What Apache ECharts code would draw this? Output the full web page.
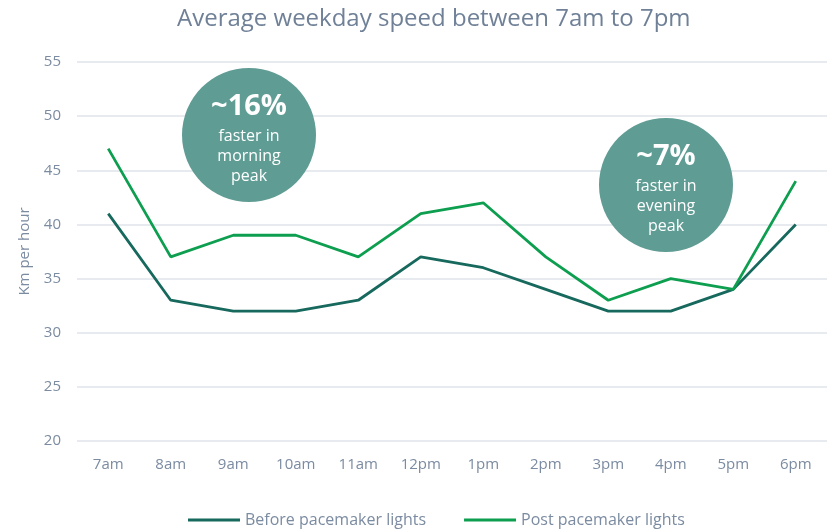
<!DOCTYPE html>
<html>
<head>
<meta charset="utf-8">
<script src="https://cdn.jsdelivr.net/npm/echarts@6/dist/echarts.min.js"></script>
<style>
  html, body {margin:0;padding:0;background:#fff;}
  #chart {width:827px;height:530px;}
</style>
</head>
<body>
<div id="chart"></div>
<script>
var hours = ['7am', '8am', '9am', '10am', '11am', '12pm', '1pm', '2pm', '3pm', '4pm', '5pm', '6pm'];
var beforeLights = [41, 33, 32, 32, 33, 37, 36, 34, 32, 32, 34, 40];
var postLights = [47, 37, 39, 39, 37, 41, 42, 37, 33, 35, 34, 44];

var textGrey = '#7b8ba1';
var bubbleColor = '#5f9c94';
var fontFam = '"Open Sans", sans-serif';

var chart = echarts.init(document.getElementById('chart'));

// bubble annotation: circle + centred lines of text
function bubble(cx, cy, r, big, lines) {
    var kids = [{
        type: 'circle',
        z: 100,
        shape: {cx: cx, cy: cy, r: r},
        style: {fill: bubbleColor}
    }, {
        type: 'text',
        z: 101,
        style: {
            x: cx, y: cy - 28, text: big, fill: '#fff',
            font: 'bold 29px ' + fontFam, textAlign: 'center', textVerticalAlign: 'middle'
        }
    }];
    lines.forEach(function (t, i) {
        kids.push({
            type: 'text',
            z: 101,
            style: {
                x: cx, y: cy + 1 + i * 20, text: t, fill: '#fff',
                font: '16px ' + fontFam, textAlign: 'center', textVerticalAlign: 'middle'
            }
        });
    });
    return {type: 'group', z: 100, children: kids};
}

var option = {
    textStyle: {fontFamily: fontFam},
    title: {
        text: 'Average weekday speed between 7am to 7pm',
        left: 172,
        top: 2,
        textStyle: {color: '#6f8097', fontSize: 24, fontWeight: 'normal', fontFamily: fontFam}
    },
    legend: {
        top: 507,
        left: 183,
        itemWidth: 52,
        itemHeight: 3,
        itemGap: 38,
        icon: 'rect',
        textStyle: {color: textGrey, fontSize: 16, fontFamily: fontFam},
        data: ['Before pacemaker lights', 'Post pacemaker lights']
    },
    grid: {left: 77, right: 0, top: 62, bottom: 89},
    xAxis: {
        type: 'category',
        data: hours,
        boundaryGap: true,
        axisLine: {show: false},
        axisTick: {show: false},
        axisLabel: {color: textGrey, fontSize: 15, margin: 16}
    },
    yAxis: {
        type: 'value',
        min: 20,
        max: 55,
        interval: 5,
        name: 'Km per hour',
        nameLocation: 'middle',
        nameGap: 45,
        nameTextStyle: {color: textGrey, fontSize: 15},
        axisLine: {show: false},
        axisTick: {show: false},
        axisLabel: {color: textGrey, fontSize: 15, margin: 16},
        splitLine: {lineStyle: {color: '#dfe3e8', width: 1.5}}
    },
    series: [{
        name: 'Before pacemaker lights',
        type: 'line',
        data: beforeLights,
        symbol: 'none',
        color: '#17695d',
        lineStyle: {width: 2.8}
    }, {
        name: 'Post pacemaker lights',
        type: 'line',
        data: postLights,
        symbol: 'none',
        color: '#0d9f4f',
        lineStyle: {width: 2.8}
    }],
    graphic: [
        bubble(249, 135, 67, '~16%', ['faster in', 'morning', 'peak']),
        bubble(666, 185, 67, '~7%', ['faster in', 'evening', 'peak'])
    ]
};

chart.setOption(option);
</script>
</body>
</html>
